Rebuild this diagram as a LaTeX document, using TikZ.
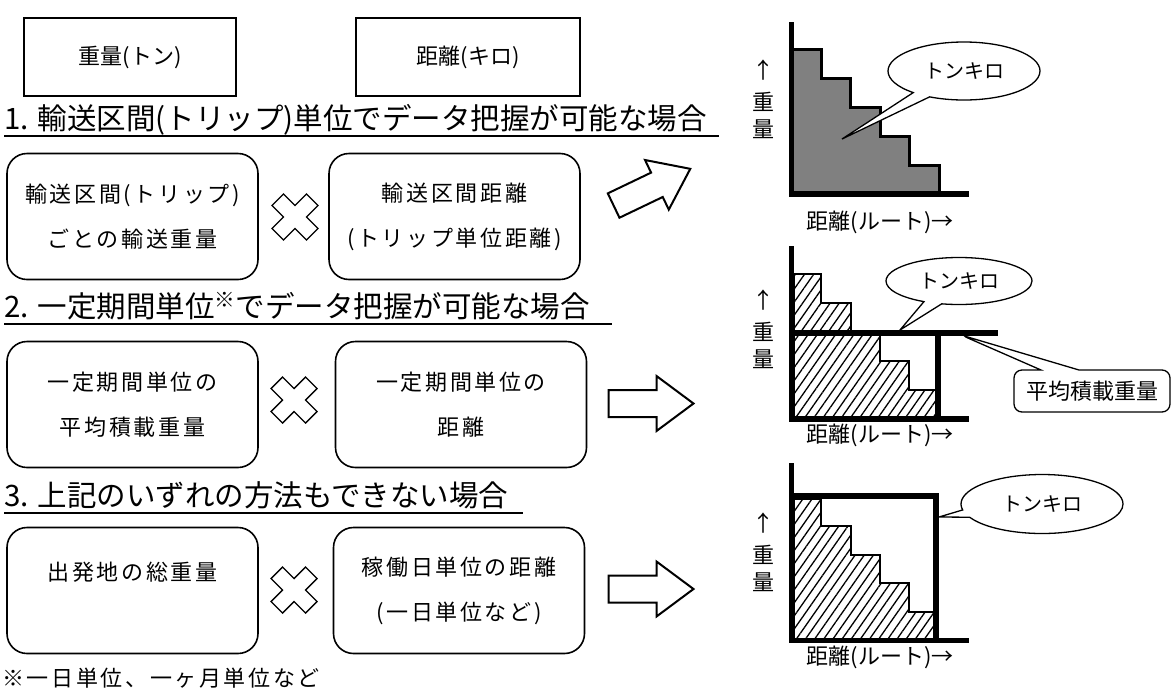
\documentclass[tikz,border=0pt]{standalone}
\usepackage{fontspec}
\setmainfont{Noto Sans CJK JP}
\newfontfamily\wide{Noto Sans CJK JP}[LetterSpace=12]
\usetikzlibrary{shapes.callouts,patterns.meta}
\tikzset{
  unitbox/.style={draw, line width=1.2pt, minimum height=78pt, font=\fontsize{22}{26}\selectfont},
  rbox/.style={draw, line width=1.6pt, rounded corners=20pt, minimum width=251pt, minimum height=126pt, align=center, font=\wide\fontsize{22}{45}\selectfont},
  boxtxt/.style={font=\wide\fontsize{22}{26}\selectfont},
  head/.style={anchor=base west, inner sep=0pt, font=\fontsize{29.5}{32}\selectfont},
  uline/.style={line width=2pt},
  axisline/.style={line width=5.5pt},
  thickbar/.style={line width=6pt},
  stair/.style={line width=1.2pt, pattern={Lines[angle=55,distance=7.5pt,line width=1.3pt]}},
  bubble/.style={ellipse callout, draw, fill=white, line width=1.3pt, font=\fontsize{20}{24}\selectfont},
  tagbox/.style={rectangle callout, draw, fill=white, line width=1.3pt, rounded corners=8pt, minimum width=156pt, minimum height=42pt, font=\fontsize{22}{26}\selectfont},
  lbl/.style={align=center, font=\fontsize{22}{27}\selectfont},
  timesmark/.pic={\draw[line width=1.4pt] (0,11.5) -- (11.5,23) -- (23,11.5) -- (11.5,0) -- (23,-11.5) -- (11.5,-23) -- (0,-11.5) -- (-11.5,-23) -- (-23,-11.5) -- (-11.5,0) -- (-23,11.5) -- (-11.5,23) -- cycle;},
  bigarrow/.pic={\filldraw[fill=white, line width=2pt] (-42,13.5) -- (6,13.5) -- (6,27.5) -- (43,0) -- (6,-27.5) -- (6,-13.5) -- (-42,-13.5) -- cycle;}
}
\begin{document}
\begin{tikzpicture}[x=1pt,y=-1pt]
\useasboundingbox (0,0) rectangle (1172,691);
\node (wt) at (130,57) [unitbox, minimum width=212pt] {重量(トン)};
\node (km) at (468,57) [unitbox, minimum width=224pt] {距離(キロ)};

\node (h1) at (4,129) [head] {1. 輸送区間(トリップ)単位でデータ把握が可能な場合};
\draw[uline] ([yshift=-6.5pt]h1.base west) -- ([xshift=12pt,yshift=-6.5pt]h1.base east);
\node (w1) at (132.5,216.5) [rbox] {輸送区間(トリップ)\\ごとの輸送重量};
\node (d1) at (454.5,216.5) [rbox] {輸送区間距離\\(トリップ単位距離)};
\pic at (295,217) {timesmark};
\pic[rotate=25.6] at (651.5,187.4) {bigarrow};

\node (h2) at (4,317) [head] {2. 一定期間単位\textsuperscript{※}でデータ把握が可能な場合};
\draw[uline] ([yshift=-6.5pt]h2.base west) -- ([xshift=22pt,yshift=-6.5pt]h2.base east);
\node (w2) at (132.5,404.5) [rbox] {一定期間単位の\\平均積載重量};
\node (d2) at (461,404.5) [rbox] {一定期間単位の\\距離};
\pic at (294,400) {timesmark};
\pic at (650.5,403.5) {bigarrow};

\node (h3) at (4,506.5) [head] {3. 上記のいずれの方法もできない場合};
\draw[uline] ([yshift=-6.5pt]h3.base west) -- ([xshift=14pt,yshift=-6.5pt]h3.base east);
\node (w3) at (132.5,590.5) [rbox] {};
\node (w3t) at (132.5,572) [boxtxt] {出発地の総重量};
\node (d3) at (459,590.5) [rbox] {稼働日単位の距離\\(一日単位など)};
\pic at (294,590) {timesmark};
\pic at (650.5,589) {bigarrow};

\node (note) at (2,678) [boxtxt, anchor=west, inner sep=0pt] {※一日単位、一ヶ月単位など};

% chart 1
\filldraw[fill=gray, line width=3pt] (791,49) -| (821,78) -| (850,107) -| (880,136) -| (909,165) -| (939,194) -- (791,194) -- cycle;
\draw[axisline] (791.5,22) |- (969,194);
\node (tk1) at (964,71) [bubble, minimum width=152pt, minimum height=58pt, callout absolute pointer={(842,139)}] {トンキロ};
\node (y1) at (763,99.5) [lbl] {↑\\[5pt]重\\量};
\node (x1) at (880,222) [lbl] {距離(ルート)→};

% chart 2
\draw[stair] (794,274) -| (821,303) -| (851,332) -| (880,361) -| (909,390) -| (938,419) -- (794,419) -- cycle;
\draw[axisline] (791.5,246) |- (969,419);
\draw[thickbar] (791,332.5) -- (998,332.5);
\draw[thickbar] (938,332.5) -- (938,419);
\node (tk2) at (959,281) [bubble, minimum width=146pt, minimum height=47pt, callout absolute pointer={(900,330)}] {トンキロ};
\node (avg) at (1092,391) [tagbox, callout absolute pointer={(961,335)}, callout pointer width=38pt] {平均積載重量};
\node (y2) at (763,329) [lbl] {↑\\[5pt]重\\量};
\node (x2) at (880,435) [lbl] {距離(ルート)→};

% chart 3
\draw[stair] (794,499) -| (821,526) -| (851,555) -| (880,583) -| (909,612) -| (936,640) -- (794,640) -- cycle;
\draw[thickbar] (789,496) -| (936,640);
\draw[axisline] (791.5,463) |- (969,640.5);
\node (tk3) at (1042,504) [bubble, minimum width=162pt, minimum height=59pt, callout absolute pointer={(939,517)}] {トンキロ};
\node (y3) at (763,552.5) [lbl] {↑\\[5pt]重\\量};
\node (x3) at (880,657) [lbl] {距離(ルート)→};
\end{tikzpicture}
\end{document}
